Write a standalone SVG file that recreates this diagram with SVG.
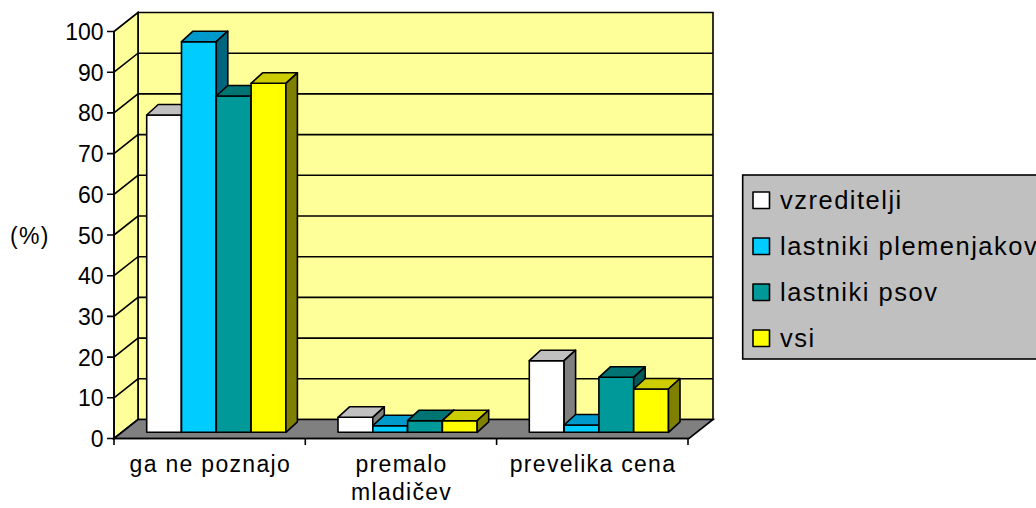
<svg xmlns="http://www.w3.org/2000/svg" width="1036" height="508" viewBox="0 0 1036 508">
<style>
text{font-family:"Liberation Sans",Arial,sans-serif;fill:#000}
.ax{font-size:23px;text-anchor:end}
.cat{font-size:23px;letter-spacing:1.3px;text-anchor:middle}
.leg{font-size:25.5px;letter-spacing:1.5px}
.ln{stroke:#000;stroke-width:1.6;fill:none}
.wall{stroke:#000;stroke-width:1.6;fill:#FFFF99}
.floor{stroke:#000;stroke-width:1.6;fill:#808080}
.bar{stroke:#000;stroke-width:1.6;stroke-linejoin:round}
.wf{fill:#FFFFFF}.wt{fill:#C0C0C0}.ws{fill:#808080}
.bf{fill:#00CCFF}.bt{fill:#0099CC}.bs{fill:#006680}
.tf{fill:#009999}.tt{fill:#007373}.ts{fill:#005A5A}
.yf{fill:#FFFF00}.yt{fill:#CCCC00}.ys{fill:#808000}
</style>
<rect width="1036" height="508" fill="#FFFFFF"/>
<g id="plot-area">
<polygon class="wall" points="138,12.5 713,12.5 713,419.5 138,419.5"/>
<polygon class="wall" points="114,31.5 138,12.5 138,419.5 114,438.5"/>
<polygon class="floor" points="114,438.5 138,419.5 713,419.5 689,438.5"/>
<g id="gridlines" class="ln">
<path d="M114,72.2 L138,53.2 H713 M114,112.9 L138,93.9 H713 M114,153.6 L138,134.6 H713 M114,194.3 L138,175.3 H713 M114,235 L138,216 H713 M114,275.7 L138,256.7 H713 M114,316.4 L138,297.4 H713 M114,357.1 L138,338.1 H713 M114,397.8 L138,378.8 H713"/>
</g>
</g>
<g id="axes" class="ln">
<path d="M114,31.5 V438.5 H689"/>
<path d="M107,31.5 H114 M107,72.2 H114 M107,112.9 H114 M107,153.6 H114 M107,194.3 H114 M107,235 H114 M107,275.7 H114 M107,316.4 H114 M107,357.1 H114 M107,397.8 H114 M107,438.5 H114"/>
<path d="M114,438.5 V445 M305.3,438.5 V445 M496.6,438.5 V445 M688,438.5 V445"/>
</g>
<g id="y-labels">
<text class="ax" x="103.5" y="40">100</text>
<text class="ax" x="103.5" y="80.7">90</text>
<text class="ax" x="103.5" y="121.4">80</text>
<text class="ax" x="103.5" y="162.1">70</text>
<text class="ax" x="103.5" y="202.8">60</text>
<text class="ax" x="103.5" y="243.5">50</text>
<text class="ax" x="103.5" y="284.2">40</text>
<text class="ax" x="103.5" y="324.9">30</text>
<text class="ax" x="103.5" y="365.6">20</text>
<text class="ax" x="103.5" y="406.3">10</text>
<text class="ax" x="103.5" y="447">0</text>
<text x="10" y="244" style="font-size:23px;letter-spacing:1.3px">(%)</text>
</g>
<g id="group-ga-ne-poznajo" class="bar">
<rect class="wf" x="146.7" y="115" width="34.8" height="317.3"/>
<polygon class="wt" points="146.7,115 181.5,115 193,104.5 158.2,104.5"/>
<polygon class="ws" points="181.5,115 193,104.5 193,421.8 181.5,432.3"/>
<rect class="bf" x="181.5" y="41.7" width="34.8" height="390.6"/>
<polygon class="bt" points="181.5,41.7 216.3,41.7 227.8,31.2 193,31.2"/>
<polygon class="bs" points="216.3,41.7 227.8,31.2 227.8,421.8 216.3,432.3"/>
<rect class="tf" x="216.3" y="96" width="34.8" height="336.3"/>
<polygon class="tt" points="216.3,96 251.1,96 262.6,85.5 227.8,85.5"/>
<polygon class="ts" points="251.1,96 262.6,85.5 262.6,421.8 251.1,432.3"/>
<rect class="yf" x="251.1" y="83.3" width="34.8" height="349"/>
<polygon class="yt" points="251.1,83.3 285.9,83.3 297.4,72.8 262.6,72.8"/>
<polygon class="ys" points="285.9,83.3 297.4,72.8 297.4,421.8 285.9,432.3"/>
</g>
<g id="group-premalo-mladicev" class="bar">
<rect class="wf" x="338" y="417.3" width="34.8" height="15"/>
<polygon class="wt" points="338,417.3 372.8,417.3 384.3,406.8 349.5,406.8"/>
<polygon class="ws" points="372.8,417.3 384.3,406.8 384.3,421.8 372.8,432.3"/>
<rect class="bf" x="372.8" y="425.7" width="34.8" height="6.6"/>
<polygon class="bt" points="372.8,425.7 407.6,425.7 419.1,415.2 384.3,415.2"/>
<polygon class="bs" points="407.6,425.7 419.1,415.2 419.1,421.8 407.6,432.3"/>
<rect class="tf" x="407.6" y="420.7" width="34.8" height="11.6"/>
<polygon class="tt" points="407.6,420.7 442.4,420.7 453.9,410.2 419.1,410.2"/>
<polygon class="ts" points="442.4,420.7 453.9,410.2 453.9,421.8 442.4,432.3"/>
<rect class="yf" x="442.4" y="420.7" width="34.8" height="11.6"/>
<polygon class="yt" points="442.4,420.7 477.2,420.7 488.7,410.2 453.9,410.2"/>
<polygon class="ys" points="477.2,420.7 488.7,410.2 488.7,421.8 477.2,432.3"/>
</g>
<g id="group-prevelika-cena" class="bar">
<rect class="wf" x="529.3" y="360.7" width="34.8" height="71.6"/>
<polygon class="wt" points="529.3,360.7 564.1,360.7 575.6,350.2 540.8,350.2"/>
<polygon class="ws" points="564.1,360.7 575.6,350.2 575.6,421.8 564.1,432.3"/>
<rect class="bf" x="564.1" y="425" width="34.8" height="7.3"/>
<polygon class="bt" points="564.1,425 598.9,425 610.4,414.5 575.6,414.5"/>
<polygon class="bs" points="598.9,425 610.4,414.5 610.4,421.8 598.9,432.3"/>
<rect class="tf" x="598.9" y="377.3" width="34.8" height="55"/>
<polygon class="tt" points="598.9,377.3 633.7,377.3 645.2,366.8 610.4,366.8"/>
<polygon class="ts" points="633.7,377.3 645.2,366.8 645.2,421.8 633.7,432.3"/>
<rect class="yf" x="633.7" y="389" width="34.8" height="43.3"/>
<polygon class="yt" points="633.7,389 668.5,389 680,378.5 645.2,378.5"/>
<polygon class="ys" points="668.5,389 680,378.5 680,421.8 668.5,432.3"/>
</g>
<g id="x-labels">
<text class="cat" x="210.3" y="472">ga ne poznajo</text>
<text class="cat" x="401.6" y="472">premalo</text>
<text class="cat" x="401.6" y="500">mladičev</text>
<text class="cat" x="593" y="472">prevelika cena</text>
</g>
<g id="legend">
<rect x="742.7" y="175" width="310" height="184" fill="#C0C0C0" stroke="#000" stroke-width="1.6"/>
<rect class="bar wf" x="753" y="192" width="16.5" height="16.5"/>
<text class="leg" x="780" y="209.3">vzreditelji</text>
<rect class="bar bf" x="753" y="238" width="16.5" height="16.5"/>
<text class="leg" x="780" y="255.3">lastniki plemenjakov</text>
<rect class="bar tf" x="753" y="284" width="16.5" height="16.5"/>
<text class="leg" x="780" y="301.3">lastniki psov</text>
<rect class="bar yf" x="753" y="330" width="16.5" height="16.5"/>
<text class="leg" x="780" y="347.3">vsi</text>
</g>
</svg>
